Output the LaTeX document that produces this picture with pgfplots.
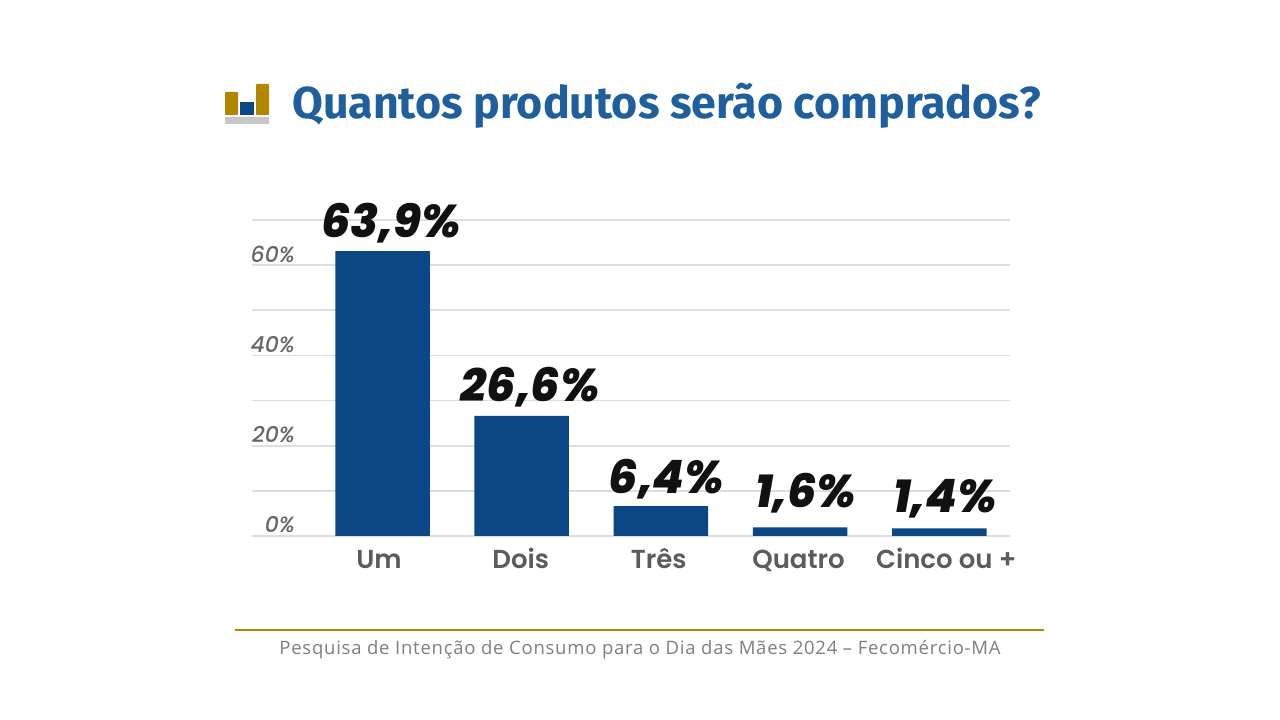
\documentclass[border=0pt]{standalone}
\usepackage{fontspec}
\usepackage{pgfplots}
\usepackage{pgfplotstable}
\pgfplotsset{compat=1.18}
\setmainfont{Fira Sans}
\newfontfamily\footfont{Open Sans}[LetterSpace=4.1]
\newfontfamily\valuefont{Poppins}[BoldItalicFont={* ExtraBold Italic}]
\newfontfamily\catfont{Poppins}[BoldFont={* SemiBold},ItalicFont={* Medium Italic}]
\definecolor{barblue}{HTML}{0C4785}
\definecolor{titleblue}{HTML}{1F5F9E}
\definecolor{gold}{HTML}{B38600}
\definecolor{gridgray}{HTML}{DEDEDE}
\definecolor{ticktext}{HTML}{666666}
\definecolor{cattext}{HTML}{5C5C5C}
\definecolor{foottext}{HTML}{7F7F7F}
\definecolor{valtext}{HTML}{111111}

% bar heights
\pgfplotstableread{
x y
0 63.1
1 26.6
2 6.6
3 1.9
4 1.7
}\bars
% value labels, placed where they stand in the reference
\pgfplotstableread{
x y label
0.06 69.4 63,9
1.06 33.0 26,6
2.04 12.6 6,4
3.04 9.5 1,6
4.04 8.2 1,4
}\vals

\begin{document}
\begin{tikzpicture}[x=1pt,y=1pt]
\path[use as bounding box,fill=white] (0,0) rectangle (1280,720);
% icon
\fill[gold,rounded corners=0.8pt] (225,605) rectangle (238,628);
\fill[barblue] (240,605) rectangle (254,618);
\fill[gold,rounded corners=0.8pt] (256,605) rectangle (269,636);
\fill[black!22,rounded corners=0.8pt] (225,596) rectangle (269,603);
% title
\node[anchor=base west,inner sep=0,text=titleblue,font=\fontsize{44.7}{50}\selectfont\bfseries] at (292,601) {Quantos produtos serão comprados?};

\begin{axis}[
  at={(252pt,184pt)},anchor=south west,
  scale only axis,width=758pt,height=316pt,
  xmin=-0.9375,xmax=4.508,ymin=0,ymax=70,
  axis line style={draw=none},
  major tick length=0pt,
  clip=false,
  ytick={0,10,...,70},
  yticklabels={0\%,,20\%,,40\%,,60\%,,},
  ymajorgrids,
  grid style={gridgray,line width=1.6pt},
  yticklabel style={anchor=base east,inner sep=0pt,xshift=43pt,yshift=3pt,text=ticktext,font=\catfont\itshape\fontsize{22}{26}\selectfont},
  xtick={-0.025,0.993,1.984,2.989,4.05},
  xticklabels={Um,Dois,Três,Quatro,Cinco ou +},
  xticklabel style={anchor=base,inner sep=0pt,yshift=-33pt,text=cattext,font=\catfont\bfseries\fontsize{26}{30}\selectfont},
]
\addplot[ybar,bar width=94.5pt,bar shift=0pt,fill=barblue,draw=none] table[x=x,y=y] {\bars};
\addplot[draw=none,mark=none,point meta=explicit symbolic,
  nodes near coords={\pgfplotspointmeta\%},
  nodes near coords style={anchor=center,inner sep=0pt,text=valtext,font=\valuefont\bfseries\itshape\fontsize{46}{50}\selectfont}]
  table[x=x,y=y,meta=label] {\vals};
\end{axis}

% footer
\draw[gold,line width=2pt] (235,90) -- (1044,90);
\node[anchor=base,inner sep=0,text=foottext,font=\footfont\fontsize{18.5}{22}\selectfont] at (640,65) {Pesquisa de Intenção de Consumo para o Dia das Mães 2024 – Fecomércio-MA};
\end{tikzpicture}
\end{document}
